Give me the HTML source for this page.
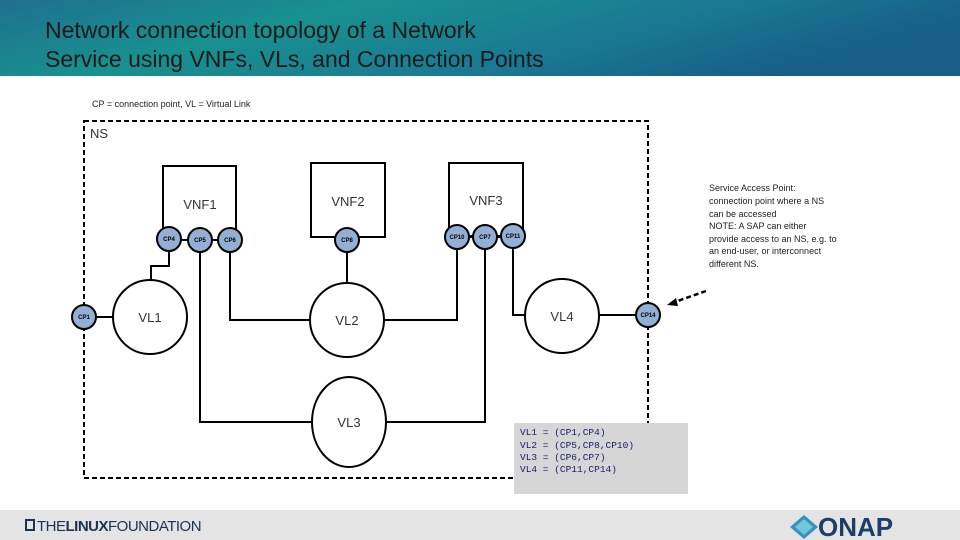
<!DOCTYPE html>
<html><head><meta charset="utf-8"><style>
body{margin:0;width:960px;height:540px;overflow:hidden;background:#fff;font-family:"Liberation Sans",sans-serif;}
</style></head><body>
<svg width="960" height="540" xmlns="http://www.w3.org/2000/svg" style="position:absolute;left:0;top:0">
<defs>
<linearGradient id="hg" x1="0" y1="0" x2="1" y2="0.3">
<stop offset="0" stop-color="#1f6f8f"/><stop offset="0.35" stop-color="#18918f"/><stop offset="0.7" stop-color="#1a7a93"/><stop offset="1" stop-color="#175f86"/>
</linearGradient>
</defs>
<rect x="0" y="0" width="960" height="76" fill="url(#hg)"/>
<text x="45" y="38" font-size="23" fill="#1a1a1a" font-family="Liberation Sans, sans-serif">Network connection topology of a Network</text>
<text x="45" y="67" font-size="23" fill="#1a1a1a" font-family="Liberation Sans, sans-serif">Service using VNFs, VLs, and Connection Points</text>
<text x="92" y="107" font-size="9" fill="#222">CP = connection point, VL = Virtual Link</text>
<rect x="84" y="121" width="564" height="357" fill="none" stroke="#000" stroke-width="2" stroke-dasharray="5,3"/>
<text x="90" y="138" font-size="13" fill="#333">NS</text>
<g fill="#fff" stroke="#000" stroke-width="2">
<rect x="163" y="166" width="73" height="74"/>
<rect x="311" y="163" width="74" height="74"/>
<rect x="449" y="163" width="74" height="73"/>
</g>
<g font-size="13" fill="#333" text-anchor="middle">
<text x="200" y="209">VNF1</text><text x="348" y="206">VNF2</text><text x="486" y="205">VNF3</text>
</g>
<g fill="none" stroke="#000" stroke-width="2">
<polyline points="169,240 169,266 151,266 151,281"/>
<line x1="84" y1="317" x2="114" y2="317"/>
<polyline points="230,240 230,320 310,320"/>
<line x1="347" y1="240" x2="347" y2="283"/>
<polyline points="384,320 457,320 457,237"/>
<polyline points="200,240 200,422 312,422"/>
<polyline points="386,422 485,422 485,237"/>
<polyline points="513,236 513,315 525,315"/>
<line x1="599" y1="315" x2="648" y2="315"/>
<line x1="169" y1="240" x2="230" y2="240"/>
<line x1="457" y1="237" x2="513" y2="237"/>
</g>
<g fill="#fff" stroke="#000" stroke-width="2">
<circle cx="150" cy="317" r="37"/>
<circle cx="347" cy="320" r="37"/>
<ellipse cx="349" cy="422" rx="37" ry="45"/>
<circle cx="562" cy="316" r="37"/>
</g>
<g font-size="13" fill="#333" text-anchor="middle">
<text x="150" y="322">VL1</text><text x="347" y="325">VL2</text><text x="349" y="427">VL3</text><text x="562" y="321">VL4</text>
</g>
<g fill="#94afd4" stroke="#000" stroke-width="2">
<circle cx="84" cy="317" r="12"/>
<circle cx="169" cy="239" r="12"/><circle cx="200" cy="240" r="12"/><circle cx="230" cy="240" r="12"/>
<circle cx="347" cy="240" r="12"/>
<circle cx="457" cy="237" r="12"/><circle cx="485" cy="237" r="12"/><circle cx="513" cy="236" r="12"/>
<circle cx="648" cy="315" r="12"/>
</g>
<g font-size="6" font-weight="bold" fill="#000" text-anchor="middle">
<text x="84" y="319">CP1</text>
<text x="169" y="241">CP4</text><text x="200" y="242">CP5</text><text x="230" y="242">CP6</text>
<text x="347" y="242">CP8</text>
<text x="457" y="239">CP10</text><text x="485" y="239">CP7</text><text x="513" y="238">CP11</text>
<text x="648" y="317">CP14</text>
</g>
<line x1="706" y1="291" x2="672" y2="303" stroke="#000" stroke-width="2.5" stroke-dasharray="5,3"/>
<polygon points="667,305 676,298 678,306" fill="#000"/>
<g font-size="9" fill="#222">
<text x="709" y="191">Service Access Point:</text>
<text x="709" y="204">connection point where a NS</text>
<text x="709" y="217">can be accessed</text>
<text x="709" y="229">NOTE: A SAP can either</text>
<text x="709" y="242">provide access to an NS, e.g. to</text>
<text x="709" y="254">an end-user, or interconnect</text>
<text x="709" y="267">different NS.</text>
</g>
<rect x="514" y="423" width="174" height="71" fill="#d6d6d6"/>
<g font-size="9.5" fill="#1a1a66" font-family="Liberation Mono, monospace">
<text x="520" y="435">VL1 = (CP1,CP4)</text>
<text x="520" y="448">VL2 = (CP5,CP8,CP10)</text>
<text x="520" y="460">VL3 = (CP6,CP7)</text>
<text x="520" y="472">VL4 = (CP11,CP14)</text>
</g>
<rect x="0" y="510" width="960" height="30" fill="#e4e4e4"/>
<rect x="26" y="520" width="8" height="10" fill="none" stroke="#1b3350" stroke-width="2"/>
<text x="37" y="531" font-size="15" fill="#1b3350" letter-spacing="-0.5">THE<tspan font-weight="bold">LINUX</tspan>FOUNDATION</text>
<polygon points="804,515 818,527 804,539 790,527" fill="#3a8fc0"/>
<polygon points="804,519 813,527 804,535 795,527" fill="#6fc7d8"/>
<text x="818" y="536" font-size="26" font-weight="bold" fill="#1b3f66">ONAP</text>
</svg>
</body></html>
